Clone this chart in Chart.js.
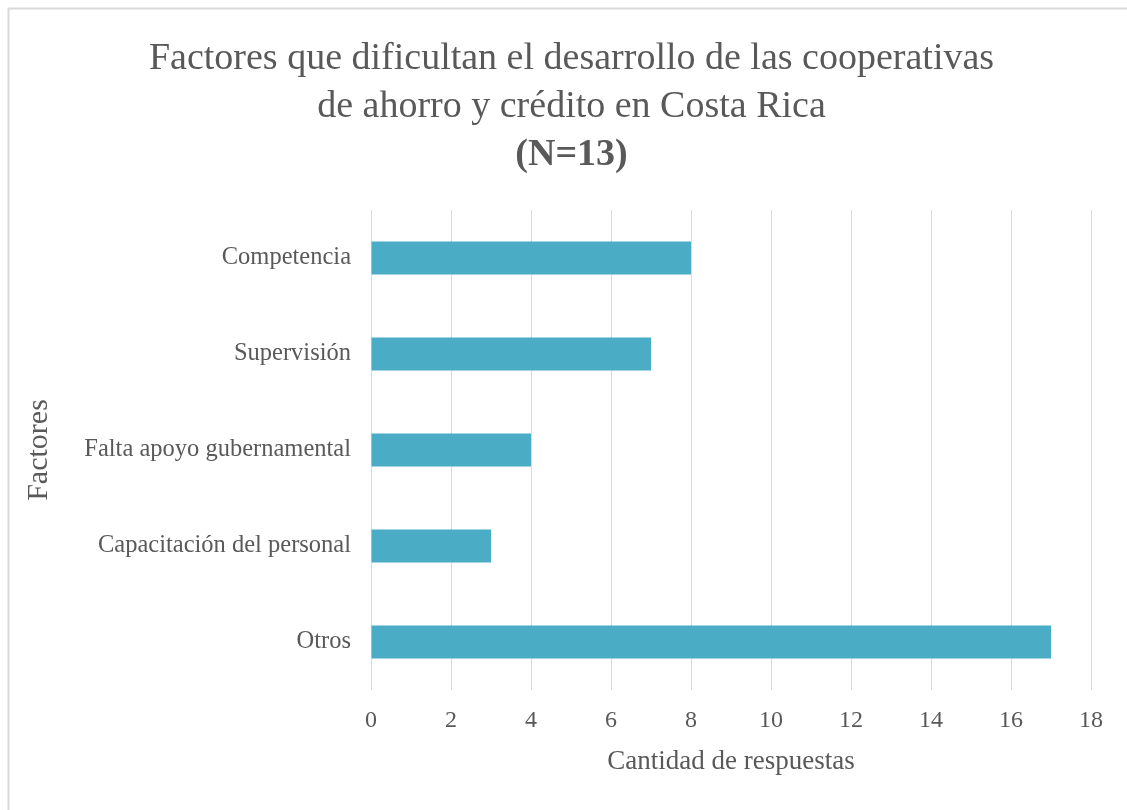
<!DOCTYPE html>
<html>
<head>
<meta charset="utf-8">
<script src="https://cdn.jsdelivr.net/npm/chart.js@4"></script>
<style>
  body { margin: 0; background: #fff; }
  canvas { display: block; }
</style>
</head>
<body>
<canvas id="grafico" width="1127" height="810"></canvas>
<script>
let factores = ["Competencia", "Supervisión", "Falta apoyo gubernamental", "Capacitación del personal", "Otros"]
let respuestas = [8, 7, 4, 3, 17]
let titulo = ["Factores que dificultan el desarrollo de las cooperativas", "de ahorro y crédito en Costa Rica"]
let subtitulo = "(N=13)"

const fuente = "'Liberation Serif', 'Times New Roman', serif"
const gris = "#595959"

// marco gris del grafico (solo se ven arriba y a la izquierda)
const marco = {
  id: "marco",
  beforeDraw(chart) {
    const c = chart.ctx
    c.save()
    c.fillStyle = "#fff"
    c.fillRect(0, 0, chart.width, chart.height)
    c.strokeStyle = "#d9d9d9"
    c.lineWidth = 2
    c.strokeRect(8.5, 8.5, 1300, 1000)
    c.restore()
  },
  // el titulo va centrado un poco a la derecha, como en el original
  afterLayout(chart) {
    chart.boxes.forEach(b => {
      if (b.position === "top" && b.axis === undefined) {
        b.left += 42
      }
    })
  }
}

var ctx = document.getElementById("grafico").getContext("2d");
var barras = new Chart(ctx, {
  type: "bar",
  data: {
    labels: factores,
    datasets: [
      {
        label: "Cantidad de respuestas",
        data: respuestas,
        backgroundColor: "#4bacc6",
        borderWidth: 0,
        categoryPercentage: 1,
        barPercentage: 0.345
      }
    ]
  },
  plugins: [marco],
  options: {
    responsive: false,
    animation: false,
    indexAxis: "y",
    layout: {
      padding: { top: 35, left: 10, right: 36, bottom: 32 }
    },
    plugins: {
      legend: { display: false },
      tooltip: { enabled: false },
      title: {
        display: true,
        text: titulo,
        color: gris,
        font: { family: fuente, size: 38, weight: "normal", lineHeight: 48 / 38 },
        padding: 0
      },
      subtitle: {
        display: true,
        text: subtitulo,
        color: gris,
        font: { family: fuente, size: 38, weight: "bold", lineHeight: 48 / 38 },
        padding: { top: 0, bottom: 31 }
      }
    },
    scales: {
      x: {
        min: 0,
        max: 18,
        afterFit(scale) { scale.height = 88 },
        ticks: {
          stepSize: 2,
          color: gris,
          padding: 16,
          font: { family: fuente, size: 24 }
        },
        grid: { color: "#d9d9d9", lineWidth: 1, drawTicks: false },
        border: { display: false },
        title: {
          display: true,
          text: "Cantidad de respuestas",
          color: gris,
          font: { family: fuente, size: 27 },
          padding: { top: 11, bottom: 0 }
        }
      },
      y: {
        afterFit(scale) { scale.width = 361 },
        ticks: {
          color: gris,
          padding: 20,
          font: { family: fuente, size: 24.5 }
        },
        grid: { display: false, drawTicks: false },
        border: { display: false },
        title: {
          display: true,
          text: "Factores",
          color: gris,
          font: { family: fuente, size: 30 },
          padding: { top: 11, bottom: 0 }
        }
      }
    }
  }
});
</script>
</body>
</html>
